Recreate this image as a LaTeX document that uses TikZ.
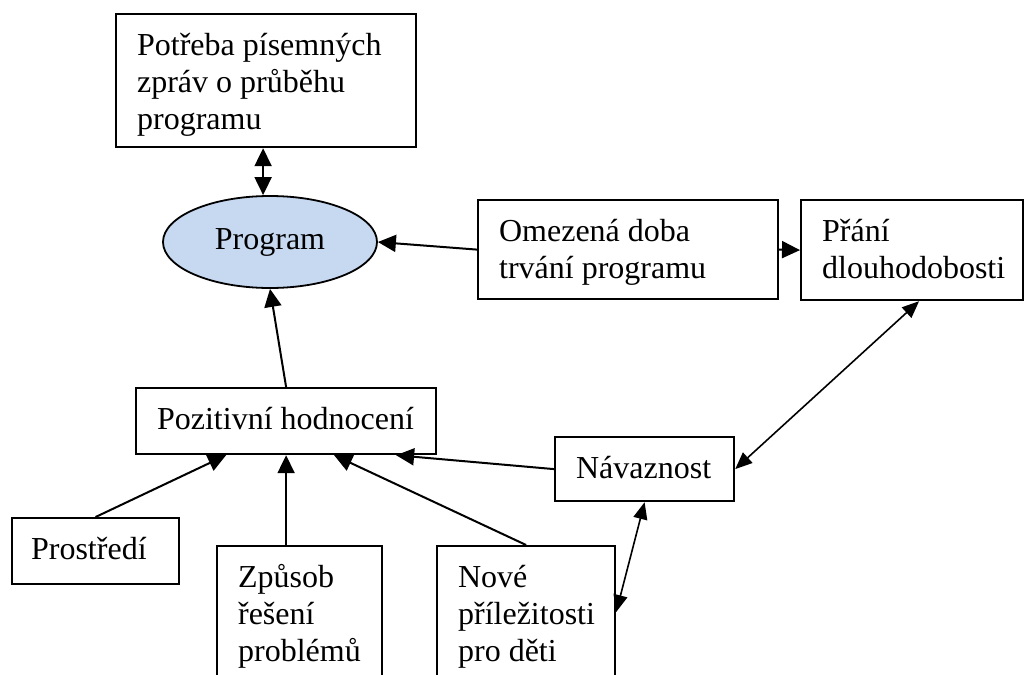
\documentclass[tikz,border=0pt]{standalone}
\usepackage{fontspec}
\setmainfont{Liberation Serif}
\usetikzlibrary{shapes.geometric,arrows.meta}
\definecolor{progfill}{HTML}{C6D9F1}
\begin{document}
\begin{tikzpicture}[x=1pt,y=-1pt,
  every node/.style={font=\fontsize{32}{37}\selectfont},
  box/.style={draw, line width=2.2pt, rectangle, anchor=north west,
              align=flush left, inner xsep=21pt, inner ysep=0pt, text height=41pt},
  link/.style={line width=2pt, -{Triangle[length=18pt,width=17pt]}},
  blink/.style={line width=2pt, {Triangle[length=18pt,width=17pt]}-{Triangle[length=18pt,width=17pt]}},
  thinlink/.style={line width=1.6pt, {Triangle[length=17pt,width=14pt]}-{Triangle[length=17pt,width=14pt]}}]
  \useasboundingbox (0,0) rectangle (1024,674);
  \clip (0,0) rectangle (1024,674);

  % upper row
  \node[box, minimum width=300pt, text width=258pt, text depth=92pt] (top) at (115,13)
    {Potřeba~písemných\\zpráv~o~průběhu\\programu};
  \node[ellipse, draw, line width=1.8pt, fill=progfill, minimum width=214pt,
        minimum height=92pt, inner sep=0pt] (prog) at (270,242) {Program};
  \node[box, minimum width=300pt, text width=258pt, text depth=58pt] (omez) at (477,199)
    {Omezená~doba\\trvání~programu};
  \node[box, minimum width=222pt, text width=180pt, text depth=59pt] (prani) at (800,199)
    {Přání\\dlouhodobosti};

  % middle row
  \node[box, minimum width=300pt, text width=258pt, text depth=25pt] (poz) at (135,387)
    {Pozitivní~hodnocení};
  \node[box, minimum width=179pt, text width=137pt, text depth=23pt] (nav) at (554,436)
    {Návaznost};

  % lower row, running off the bottom edge
  \node[box, minimum width=167pt, text width=129pt, text depth=25pt, inner xsep=19pt] (prost) at (11,517)
    {Prostředí};
  \node[box, minimum width=165pt, text width=123pt, text depth=109pt] (zpus) at (216,545)
    {Způsob\\řešení\\problémů};
  \node[box, minimum width=178pt, text width=136pt, text depth=109pt] (nove) at (436,545)
    {Nové\\příležitosti\\pro~děti};

  % connectors
  \draw[blink] ([xshift=-3pt]top.south) -- ([xshift=-3pt]top.south |- prog.north);
  \draw[link] (omez.west) -- (prog.east);
  \draw[link] (omez.east) -- (prani.west);
  \draw[link] (poz.north) -- (prog.south);
  \draw[thinlink] ([xshift=7pt]prani.south) -- (nav.east);
  \draw[link] (nav.west) -- ([xshift=110pt]poz.south);
  \draw[link] (prost.north) -- ([xshift=-60pt]poz.south);
  \draw[link] (zpus.north -| poz.south) -- (poz.south);
  \draw[link] (nove.north) -- ([xshift=48pt]poz.south);
  \draw[thinlink] (nav.south) -- ([yshift=-67pt]nove.north east);
\end{tikzpicture}
\end{document}
